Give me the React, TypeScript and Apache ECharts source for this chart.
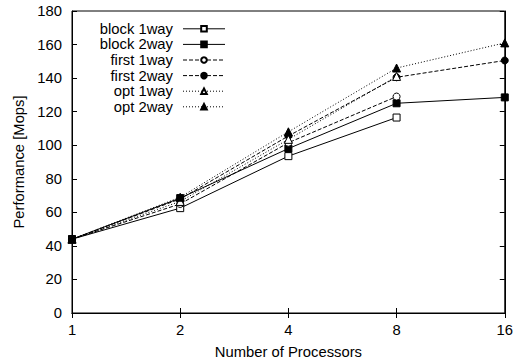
import React, { useEffect, useRef } from "react";
import * as echarts from "echarts";

const processors = [1, 2, 4, 8, 16];
const block1way = [44, 62.5, 93.5, 116.5];
const block2way = [44, 68.5, 98, 125, 128.5];
const first1way = [44, 65, 101.5, 129];
const first2way = [44, 68, 105.5, 140.5, 150.5];
const opt1way = [44, 66.5, 103.5, 141];
const opt2way = [44, 69, 108, 146, 161];
const yTicks = { min: 0, max: 180, interval: 20 };

const FONT = "'Liberation Sans', Arial, sans-serif";
const FS = 14.8;
const LH = 15.6;

function pairs(vals: number[]) {
  return vals.map((v, i) => [processors[i], v]);
}

function mkSeries(name: string, vals: number[], symbol: string, filled: boolean, dash: any) {
  return {
    name,
    type: "line",
    data: pairs(vals),
    symbol,
    symbolSize: symbol === "triangle" ? 8 : 7,
    showAllSymbol: true,
    lineStyle: { color: "#000", width: 1, type: dash },
    itemStyle: { color: filled ? "#000" : "#fff", borderColor: "#000", borderWidth: 1 },
    emphasis: { disabled: true },
  };
}

export default function App() {
  const ref = useRef<HTMLDivElement>(null);
  useEffect(() => {
    if (!ref.current) return;
    const chart = echarts.init(ref.current, undefined, { renderer: "svg" });
    const axisLine = { show: true, lineStyle: { color: "#000", width: 1 } };
    const tick = { show: true, inside: true, length: 5, lineStyle: { color: "#000" } };
    chart.setOption({
      animation: false,
      textStyle: { fontFamily: FONT },
      grid: { left: 72, right: 11, top: 11, bottom: 48, show: true, borderColor: "#000", borderWidth: 1 },
      legend: {
        orient: "vertical",
        left: 93,
        top: 16,
        align: "right",
        itemWidth: 42,
        itemHeight: 7,
        itemGap: 0,
        selectedMode: false,
        lineStyle: { width: 1 },
        formatter: (n: string) => "{a|" + n + "}{b| }",
        textStyle: {
          fontFamily: FONT,
          fontSize: FS,
          color: "#000",
          lineHeight: LH,
          height: LH,
          rich: {
            a: { width: 75, height: LH, align: "right", fontSize: FS, fontFamily: FONT, color: "#000", lineHeight: LH },
            b: { width: 5, height: LH, fontSize: FS, lineHeight: LH },
          },
        },
        data: ["block 1way", "block 2way", "first 1way", "first 2way", "opt 1way", "opt 2way"],
      },
      xAxis: [
        {
          type: "log",
          logBase: 2,
          min: 1,
          max: 16,
          position: "bottom",
          name: "Number of Processors",
          nameLocation: "middle",
          nameGap: 31,
          nameTextStyle: { fontSize: FS, color: "#000", fontFamily: FONT },
          axisLine,
          axisTick: tick,
          minorTick: { show: false },
          splitLine: { show: false },
          axisLabel: { fontSize: FS, color: "#000", margin: 9, fontFamily: FONT },
        },
        {
          type: "log",
          logBase: 2,
          min: 1,
          max: 16,
          position: "top",
          axisLine,
          axisTick: tick,
          splitLine: { show: false },
          axisLabel: { show: false },
        },
      ],
      yAxis: [
        {
          type: "value",
          ...yTicks,
          position: "left",
          name: "Performance [Mops]",
          nameLocation: "middle",
          nameGap: 45,
          nameTextStyle: { fontSize: FS, color: "#000", fontFamily: FONT },
          axisLine,
          axisTick: tick,
          splitLine: { show: false },
          axisLabel: { fontSize: FS, color: "#000", margin: 10, fontFamily: FONT },
        },
        {
          type: "value",
          ...yTicks,
          position: "right",
          axisLine,
          axisTick: tick,
          splitLine: { show: false },
          axisLabel: { show: false },
        },
      ],
      series: [
        mkSeries("block 1way", block1way, "rect", false, "solid"),
        mkSeries("block 2way", block2way, "rect", true, "solid"),
        mkSeries("first 1way", first1way, "circle", false, [4, 2]),
        mkSeries("first 2way", first2way, "circle", true, [4, 2]),
        mkSeries("opt 1way", opt1way, "triangle", false, [1, 2]),
        mkSeries("opt 2way", opt2way, "triangle", true, [1, 2]),
      ],
    });
    return () => chart.dispose();
  }, []);
  return <div ref={ref} style={{ width: 516, height: 364, position: "absolute", left: 0, top: 0 }} />;
}
